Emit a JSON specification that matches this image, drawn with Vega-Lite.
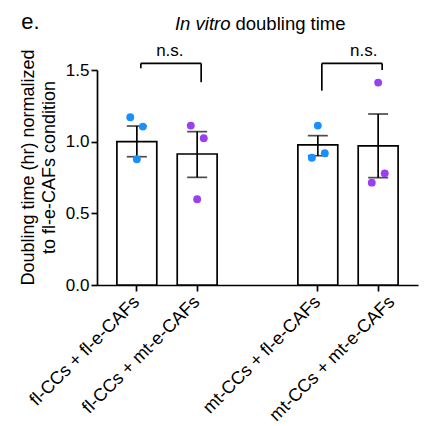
{
  "$schema": "https://vega.github.io/schema/vega-lite/v6.json",
  "width": 321,
  "height": 215,
  "autosize": {"type": "none"},
  "padding": {"left": 97, "top": 70, "right": 9, "bottom": 141},
  "background": "white",
  "title": {"text": "e.", "anchor": "start", "frame": "bounds", "fontSize": 22, "fontWeight": "normal", "font": "Liberation Sans", "color": "black", "dx": 2, "dy": 29, "offset": 10},
  "config": {
    "font": "Liberation Sans",
    "view": {"stroke": null},
    "axis": {"domainColor": "black", "tickColor": "black", "labelColor": "black", "titleColor": "black", "domainWidth": 1.7, "tickWidth": 1.7, "grid": false, "labelFont": "Liberation Sans", "titleFont": "Liberation Sans", "titleFontWeight": "normal"}
  },
  "datasets": {
    "bars": [
      {"cond": "fl-CCs + fl-e-CAFs", "mean": 1.0, "lo": 0.895, "hi": 1.109},
      {"cond": "fl-CCs + mt-e-CAFs", "mean": 0.914, "lo": 0.751, "hi": 1.07},
      {"cond": "mt-CCs + fl-e-CAFs", "mean": 0.977, "lo": 0.902, "hi": 1.042},
      {"cond": "mt-CCs + mt-e-CAFs", "mean": 0.97, "lo": 0.749, "hi": 1.193}
    ],
    "points": [
      {"cond": "fl-CCs + fl-e-CAFs", "caf": "fl-e-CAFs", "jitter": -0.33, "value": 1.17},
      {"cond": "fl-CCs + fl-e-CAFs", "caf": "fl-e-CAFs", "jitter": 0.3, "value": 1.105},
      {"cond": "fl-CCs + fl-e-CAFs", "caf": "fl-e-CAFs", "jitter": 0.0, "value": 0.877},
      {"cond": "fl-CCs + mt-e-CAFs", "caf": "mt-e-CAFs", "jitter": -0.32, "value": 1.112},
      {"cond": "fl-CCs + mt-e-CAFs", "caf": "mt-e-CAFs", "jitter": 0.33, "value": 1.024},
      {"cond": "fl-CCs + mt-e-CAFs", "caf": "mt-e-CAFs", "jitter": 0.0, "value": 0.598},
      {"cond": "mt-CCs + fl-e-CAFs", "caf": "fl-e-CAFs", "jitter": 0.0, "value": 1.112},
      {"cond": "mt-CCs + fl-e-CAFs", "caf": "fl-e-CAFs", "jitter": -0.3, "value": 0.888},
      {"cond": "mt-CCs + fl-e-CAFs", "caf": "fl-e-CAFs", "jitter": 0.35, "value": 0.919},
      {"cond": "mt-CCs + mt-e-CAFs", "caf": "mt-e-CAFs", "jitter": 0.0, "value": 1.412},
      {"cond": "mt-CCs + mt-e-CAFs", "caf": "mt-e-CAFs", "jitter": 0.33, "value": 0.779},
      {"cond": "mt-CCs + mt-e-CAFs", "caf": "mt-e-CAFs", "jitter": -0.32, "value": 0.714}
    ],
    "brackets": [
      {"from": "fl-CCs + fl-e-CAFs", "to": "fl-CCs + mt-e-CAFs", "level": 1.546},
      {"from": "mt-CCs + fl-e-CAFs", "to": "mt-CCs + mt-e-CAFs", "level": 1.546}
    ],
    "legs": [
      {"cond": "fl-CCs + fl-e-CAFs", "bottom": 1.512, "top": 1.546},
      {"cond": "fl-CCs + mt-e-CAFs", "bottom": 1.415, "top": 1.546},
      {"cond": "mt-CCs + fl-e-CAFs", "bottom": 1.356, "top": 1.546},
      {"cond": "mt-CCs + mt-e-CAFs", "bottom": 1.5, "top": 1.546}
    ]
  },
  "encoding": {
    "x": {
      "field": "cond", "type": "nominal",
      "scale": {"domain": ["fl-CCs + fl-e-CAFs", "fl-CCs + mt-e-CAFs", "gap", "mt-CCs + fl-e-CAFs", "mt-CCs + mt-e-CAFs"], "paddingInner": 0.339, "paddingOuter": 0.33},
      "axis": {"title": null, "values": ["fl-CCs + fl-e-CAFs", "fl-CCs + mt-e-CAFs", "mt-CCs + fl-e-CAFs", "mt-CCs + mt-e-CAFs"], "labelAngle": -45, "labelAlign": "right", "labelBaseline": "middle", "labelFontSize": 18, "tickSize": 6, "labelPadding": 8,
        "labelOffset": {"condition": {"test": "datum.value === 'mt-CCs + mt-e-CAFs'", "value": 14}, "value": 0}}
    }
  },
  "layer": [
    {
      "data": {"name": "bars"},
      "mark": {"type": "bar", "fill": "white", "stroke": "black", "strokeWidth": 1.7, "width": 39.9},
      "encoding": {
        "y": {"field": "mean", "type": "quantitative", "scale": {"domain": [0, 1.5], "nice": false},
          "axis": {"values": [0, 0.5, 1, 1.5], "format": ".1f", "labelFontSize": 17, "tickSize": 6, "labelPadding": 2, "title": ["Doubling time (hr) normalized", "to fl-e-CAFs condition"], "titleFontSize": 18, "titleLineHeight": 21, "titlePadding": 7, "titleY": 97}}
      }
    },
    {
      "data": {"name": "bars"},
      "mark": {"type": "rule", "color": "black", "strokeWidth": 1.7},
      "encoding": {"y": {"field": "lo", "type": "quantitative"}, "y2": {"field": "hi"}}
    },
    {
      "data": {"name": "bars"},
      "mark": {"type": "tick", "color": "black", "thickness": 1.7, "size": 20, "orient": "horizontal"},
      "encoding": {"y": {"field": "lo", "type": "quantitative"}}
    },
    {
      "data": {"name": "bars"},
      "mark": {"type": "tick", "color": "black", "thickness": 1.7, "size": 20, "orient": "horizontal"},
      "encoding": {"y": {"field": "hi", "type": "quantitative"}}
    },
    {
      "data": {"name": "points"},
      "mark": {"type": "circle", "size": 62, "opacity": 1},
      "encoding": {
        "y": {"field": "value", "type": "quantitative"},
        "xOffset": {"field": "jitter", "type": "quantitative", "scale": {"domain": [-1, 1]}},
        "color": {"field": "caf", "type": "nominal", "scale": {"domain": ["fl-e-CAFs", "mt-e-CAFs"], "range": ["#1a8fff", "#9b3ff2"]}, "legend": null}
      }
    },
    {
      "data": {"name": "brackets"},
      "mark": {"type": "rule", "color": "black", "strokeWidth": 1.7, "xOffset": 4, "x2Offset": 4},
      "encoding": {"x": {"field": "from", "type": "nominal"}, "x2": {"field": "to"}, "y": {"field": "level", "type": "quantitative"}}
    },
    {
      "data": {"name": "legs"},
      "mark": {"type": "rule", "color": "black", "strokeWidth": 1.7, "xOffset": 4},
      "encoding": {"y": {"field": "bottom", "type": "quantitative"}, "y2": {"field": "top"}}
    },
    {
      "data": {"values": [{"cond": "fl-CCs + fl-e-CAFs", "label": "n.s.", "y": 1.6}]},
      "mark": {"type": "text", "fontSize": 17, "align": "center", "baseline": "alphabetic", "dx": 33, "color": "black"},
      "encoding": {"y": {"field": "y", "type": "quantitative"}, "text": {"field": "label"}}
    },
    {
      "data": {"values": [{"cond": "mt-CCs + fl-e-CAFs", "label": "n.s.", "y": 1.6}]},
      "mark": {"type": "text", "fontSize": 17, "align": "center", "baseline": "alphabetic", "dx": 46, "color": "black"},
      "encoding": {"y": {"field": "y", "type": "quantitative"}, "text": {"field": "label"}}
    },
    {
      "data": {"values": [{"cond": "gap", "label": "In vitro", "y": 1.78}]},
      "mark": {"type": "text", "fontSize": 18.5, "fontStyle": "italic", "align": "right", "baseline": "alphabetic", "dx": -27, "color": "black"},
      "encoding": {"y": {"field": "y", "type": "quantitative"}, "text": {"field": "label"}}
    },
    {
      "data": {"values": [{"cond": "gap", "label": "doubling time", "y": 1.78}]},
      "mark": {"type": "text", "fontSize": 18.5, "align": "left", "baseline": "alphabetic", "dx": -22, "color": "black"},
      "encoding": {"y": {"field": "y", "type": "quantitative"}, "text": {"field": "label"}}
    }
  ]
}
